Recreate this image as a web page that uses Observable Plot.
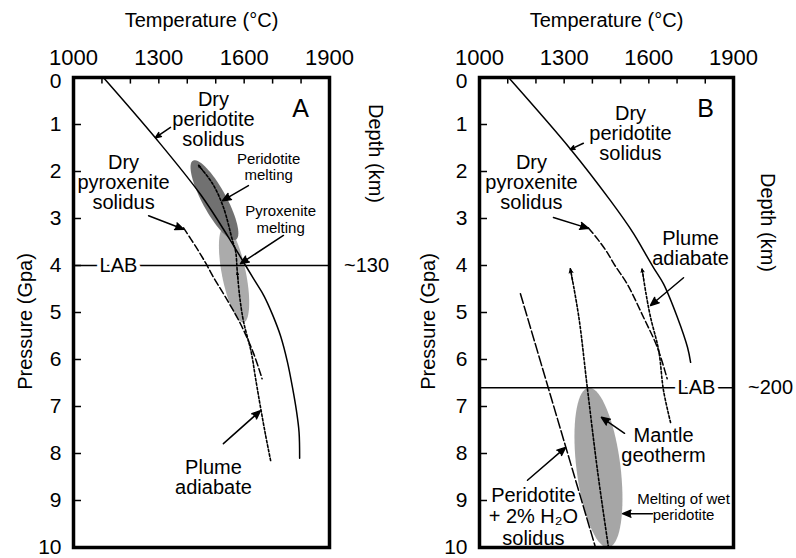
<!DOCTYPE html>
<html><head><meta charset="utf-8">
<script src="https://cdn.jsdelivr.net/npm/d3@7"></script>
<script src="https://cdn.jsdelivr.net/npm/@observablehq/plot@0.6"></script>
<style>
body{margin:0;background:#fff;}
#wrap{position:relative;width:796px;height:558px;overflow:hidden;font-family:"Liberation Sans",Arial,sans-serif;}
#wrap svg{position:absolute;top:0;overflow:visible;}
</style></head><body><div id="wrap"></div>
<script>
// ---- axis ticks ----
const tempTicks = [1000, 1300, 1600, 1900];
const tempMinor = [1100, 1200, 1300, 1400, 1500, 1600, 1700, 1800];
const pressTicks = [1, 2, 3, 4, 5, 6, 7, 8, 9, 10];
const pressZero = [0];
const pressMinor = [1, 2, 3, 4, 5, 6, 7, 8, 9];

// ---- Panel A data [T (°C), P (GPa)] ----
const periSolidusA = [[1105,0],[1290,1.3],[1448,2.5],[1545,3.4],[1605,4.0],[1640,4.35],[1670,4.65],[1700,5.05],[1728,5.5],[1752,6.05],[1770,6.6],[1784,7.1],[1793,7.55],[1795,8.1]];
const pyroxSolidusA = [[1387,3.2],[1430,3.6],[1465,3.95],[1492,4.25],[1534,4.67],[1587,5.24],[1633,5.87],[1663,6.41]];
const plumeA = [[1693,8.15],[1675,7.6],[1657,7.0],[1640,6.4],[1625,5.85],[1598,5.2],[1585,4.7],[1576,4.15],[1570,3.7],[1559,3.47],[1527,2.76],[1489,2.26],[1440,1.87]];
const plumeHeadsA = [[1578.5,4.3,1576,4.15],[1455,1.99,1440,1.87]];
const lithA = 4;
const meltA = [ // top, bottom, half width
  {top:[1531,3.17], bottom:[1598,5.21], hw:12, fill:"#ababab"},
  {top:[1420,1.77], bottom:[1571,3.45], hw:12, fill:"#717171"}
];
const labelsA = [
  {T:1492, P:0.894, t:"Dry\nperidotite\nsolidus", fs:20, lh:1.0},
  {T:1176, P:2.23, t:"Dry\npyroxenite\nsolidus", fs:20, lh:1.0},
  {T:1686, P:1.90, t:"Peridotite\nmelting", fs:15, lh:1.05},
  {T:1728, P:3.01, t:"Pyroxenite\nmelting", fs:15, lh:1.1},
  {T:1492, P:8.51, t:"Plume\nadiabate", fs:20, lh:1.0},
  {T:1798, P:0.66, t:"A", fs:25, lh:1}
];
const arrowsA = [
  [1341,1.06,1288,1.28],[1264,2.94,1387,3.23],[1615,2.3,1524,2.62],[1738,3.36,1587,3.96],[1527,7.79,1657,7.09]
];

// ---- Panel B data ----
const periSolidusB = [[1103,0],[1322,1.52],[1464,2.62],[1546,3.32],[1581,3.68],[1617,4.05],[1652,4.39],[1701,5.1],[1737,5.74],[1748,6.06]];
const pyroxSolidusB = [[1386,3.2],[1420,3.45],[1450,3.7],[1480,4.0],[1523,4.39],[1581,5.1],[1630,5.74],[1665,6.41]];
const wetSolidusB = [[1145,4.6],[1411,10]];
const plumeB = [[1677,7.34],[1652,6.66],[1635,5.81],[1606,5.1],[1590,4.6],[1576,4.07]];
const geothermB = [[1457,10],[1418,8.36],[1382,6.6],[1352,5.1],[1322,4.07]];
const headsB = [[1582,4.3,1576,4.07],[1330,4.35,1322,4.07]];
const lithB = 6.6;
const meltB = [{top:[1386,6.6], bottom:[1457,10], hw:22, fill:"#a6a6a6"}];
const labelsB = [
  {T:1535, P:1.19, t:"Dry\nperidotite\nsolidus", fs:20, lh:1.0},
  {T:1184, P:2.23, t:"Dry\npyroxenite\nsolidus", fs:20, lh:1.0},
  {T:1748, P:3.64, t:"Plume\nadiabate", fs:20, lh:1.0},
  {T:1652, P:7.83, t:"Mantle\ngeotherm", fs:20, lh:1.0},
  {T:1191, P:9.34, t:"Peridotite\n+ 2% H\u2082O\nsolidus", fs:20, lh:1.08},
  {T:1723, P:9.13, t:"Melting of wet\nperidotite", fs:15, lh:1.08},
  {T:1801, P:0.66, t:"B", fs:25, lh:1}
];
const arrowsB = [
  [1368,1.4,1322,1.53],[1262,2.98,1386,3.21],[1723,4.26,1606,4.85],[1514,7.57,1432,7.23],[1170,8.57,1305,7.87],[1613,9.28,1507,9.28]
];

const FONT = '"Liberation Sans", Arial, sans-serif';

function ellipse(e, kx, ky) {
  const x1 = e.top[0]*kx, y1 = e.top[1]*ky, x2 = e.bottom[0]*kx, y2 = e.bottom[1]*ky;
  const cx = (x1+x2)/2, cy = (y1+y2)/2, a = Math.hypot(x2-x1, y2-y1)/2, th = Math.atan2(y2-y1, x2-x1);
  return d3.range(72).map(i => {
    const t = i/72*2*Math.PI, u = a*Math.cos(t), v = e.hw*Math.sin(t);
    return {T: (cx + u*Math.cos(th) - v*Math.sin(th))/kx, P: (cy + u*Math.sin(th) + v*Math.cos(th))/ky};
  });
}

function panel(o) {
  const W = 398, H = 558, mt = 77, mb = 11;
  const kx = (W - o.ml - o.mr)/900, ky = (H - mt - mb)/10;
  const marks = [];
  for (const e of o.melt) {
    marks.push(Plot.line(ellipse(e, kx, ky), {x:"T", y:"P", fill: e.fill, stroke: "none", curve:"linear-closed"}));
  }
  const solid = {strokeWidth:1.5, stroke:"black"};
  marks.push(Plot.line(o.peri, {x:d=>d[0], y:d=>d[1], ...solid, curve:"catmull-rom"}));
  marks.push(Plot.line(o.pyrox, {x:d=>d[0], y:d=>d[1], ...solid, strokeDasharray:"7,3", curve:"catmull-rom"}));
  if (o.wet) marks.push(Plot.line(o.wet, {x:d=>d[0], y:d=>d[1], ...solid, strokeDasharray:"10,3"}));
  for (const s of o.dotted) marks.push(Plot.line(s, {x:d=>d[0], y:d=>d[1], stroke:"black", strokeWidth:1.6, strokeDasharray:"2.5,2", curve:"catmull-rom"}));
  marks.push(Plot.arrow(o.heads, {x1:d=>d[0], y1:d=>d[1], x2:d=>d[2], y2:d=>d[3], headLength:11, headAngle:50, stroke:"black", fill:"black", strokeWidth:1}));
  marks.push(Plot.ruleY([o.lab], {y:d=>d, x1:1000, x2:1900, strokeWidth:1.5, stroke:"black"}));
  marks.push(Plot.arrow(o.arrows, {x1:d=>d[0], y1:d=>d[1], x2:d=>d[2], y2:d=>d[3], headLength:9, headAngle:45, stroke:"black", fill:"black", strokeWidth:1.5}));
  for (const l of o.labels) {
    marks.push(Plot.text([l], {x:"T", y:"P", text:"t", fontSize:l.fs, lineHeight:l.lh, fill:"black"}));
  }
  marks.push(Plot.frame({strokeWidth:3.5, stroke:"black"}));
  marks.push(Plot.axisX({anchor:"top", ticks:tempTicks, tickFormat:d=>String(d), tickSize:0, tickPadding:13, fontSize:22, label:null}));
  marks.push(Plot.axisY({anchor:"left", ticks:pressTicks, tickFormat:d=>String(d), tickSize:0, tickPadding:12, fontSize:21, label:null}));
  marks.push(Plot.text(pressZero, {frameAnchor:"left", y:d=>d, text:d=>String(d), dx:-12, dy:4, textAnchor:"end", lineAnchor:"middle", fontSize:21, fill:"black"}));
  marks.push(Plot.ruleX(tempMinor, {x:d=>d, y1:0, y2:0.14, strokeWidth:1.5, stroke:"black"}));
  marks.push(Plot.ruleY(pressMinor, {y:d=>d, x1:1000, x2:1000 + 8/kx, strokeWidth:1.5, stroke:"black"}));
  // LAB label with white knockout behind it
  const lab = [{T:o.labT, P:o.lab}];
  marks.push(Plot.text(lab, {x:"T", y:"P", text:()=>"LAB", fontSize:20, fill:"white", stroke:"white", strokeWidth:8}));
  marks.push(Plot.text(lab, {x:"T", y:"P", text:()=>"LAB", fontSize:20, fill:"black"}));
  const center = {textAnchor:"middle", lineAnchor:"middle", fill:"black", fontSize:20};
  marks.push(Plot.text(["Temperature (\u00b0C)"], {frameAnchor:"top", dy:-57, ...center}));
  marks.push(Plot.text(["Pressure (Gpa)"], {frameAnchor:"left", dx:o.pdx, dy:9, rotate:-90, ...center}));
  marks.push(Plot.text(["Depth (km)"], {frameAnchor:"top-right", dx:o.ddx, dy:o.ddy, rotate:90, ...center}));
  marks.push(Plot.text([{T:1900, P:o.lab}], {x:"T", y:"P", text:()=>o.depth, dx:37, fontSize:20, fill:"black"}));
  const svg = Plot.plot({
    width: W, height: H, marginLeft: o.ml, marginRight: o.mr, marginTop: mt, marginBottom: mb,
    x: {domain:[1000,1900]}, y: {domain:[0,10], reverse:true},
    style: {fontFamily: FONT, fontSize:"18px", background:"transparent", color:"black", overflow:"visible"},
    marks
  });
  svg.style.left = o.left + "px";
  return svg;
}

const wrap = document.getElementById("wrap");
wrap.appendChild(panel({left:0, ml:73, mr:69, peri:periSolidusA, pyrox:pyroxSolidusA, dotted:[plumeA], heads:plumeHeadsA,
  melt:meltA, lab:lithA, labT:1158, labels:labelsA, arrows:arrowsA, pdx:-48, ddx:46, ddy:76, depth:"~130"}));
wrap.appendChild(panel({left:398, ml:81, mr:63, peri:periSolidusB, pyrox:pyroxSolidusB, wet:wetSolidusB, dotted:[plumeB, geothermB], heads:headsB,
  melt:meltB, lab:lithB, labT:1769, labels:labelsB, arrows:arrowsB, pdx:-51, ddx:34, ddy:145, depth:"~200"}));
</script></body></html>
